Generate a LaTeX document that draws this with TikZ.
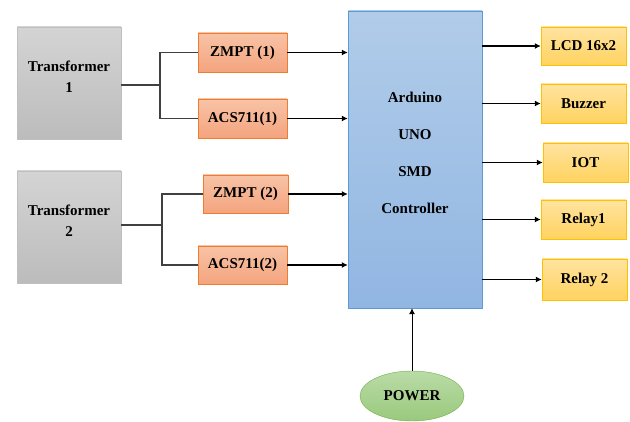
\documentclass[tikz,border=0pt]{standalone}
\usepackage{fontspec}
\setmainfont{Liberation Serif}
\usetikzlibrary{arrows.meta,positioning,shapes.geometric}

\definecolor{trborder}{HTML}{BFBFBF}
\definecolor{trtop}{HTML}{D4D4D4}
\definecolor{trbot}{HTML}{BCBCBC}
\definecolor{snsborder}{HTML}{ED7D31}
\definecolor{snstop}{HTML}{F8C3A6}
\definecolor{snsbot}{HTML}{F4A47E}
\definecolor{ardborder}{HTML}{5B9BD5}
\definecolor{ardtop}{HTML}{B1CCE9}
\definecolor{ardbot}{HTML}{91B6E2}
\definecolor{outborder}{HTML}{FFC000}
\definecolor{outtop}{HTML}{FFE3A0}
\definecolor{outbot}{HTML}{FFD35F}
\definecolor{pwrborder}{HTML}{70AD47}
\definecolor{pwrtop}{HTML}{BADBA6}
\definecolor{pwrbot}{HTML}{99C97D}

\tikzset{
trbox/.style={draw=trborder,top color=trtop,bottom color=trbot,minimum width=104pt,minimum height=112pt,align=center},
snsbox/.style={draw=snsborder,top color=snstop,bottom color=snsbot,minimum width=89pt,minimum height=39pt},
outbox/.style={draw=outborder,top color=outtop,bottom color=outbot,minimum width=85pt,minimum height=39pt},
wire/.style={draw=black!75,line width=1.1pt},
arr/.style={wire,-{Latex[length=6pt,width=6pt]},draw=black}
}

\begin{document}
\begin{tikzpicture}[x=1pt,y=-1pt,
every node/.style={inner sep=0pt,font=\bfseries\fontsize{15}{18}\selectfont}]
\useasboundingbox (0,0) rectangle (630,422);
\node[trbox] (T1) at (69,83) {Transformer\\[3pt]1\\[-6pt]};
\node[trbox] (T2) at (69,227) {Transformer\\[3pt]2\\[-6pt]};
\node[snsbox] (Z1) at (242.5,52.5) {ZMPT (1)};
\node[snsbox] (A1) at (242.5,118.5) {ACS711(1)};
\node[snsbox,minimum width=85pt,minimum height=38pt] (Z2) at (245.5,194) {ZMPT (2)};
\node[snsbox,minimum height=38pt] (A2) at (242.5,265) {ACS711(2)};
\node[draw=ardborder,top color=ardtop,bottom color=ardbot,
minimum width=134pt,minimum height=297pt,align=center] (ARD) at (415,159.5)
{Arduino\\[19pt]UNO\\[19pt]SMD\\[19pt]Controller\\[-4pt]};
\node[outbox,minimum height=38pt] (LCD) at (583.5,46) {LCD 16x2};
\node[outbox] (BUZ) at (583.5,103.5) {Buzzer};
\node[outbox] (IOT) at (585.5,162.5) {IOT};
\node[outbox] (R1) at (583.5,219.5) {Relay1};
\node[outbox,minimum height=41pt] (R2) at (584.5,279.5) {Relay 2};
\node[ellipse,draw=pwrborder,top color=pwrtop,bottom color=pwrbot,
minimum width=104pt,minimum height=50pt] (PWR) at (412,396) {POWER};
% transformer branches
\coordinate (J1) at (160,85);
\coordinate (J2) at (162,225);
\draw[wire] (T1.east |- J1)--(J1);
\draw[wire] (J1)|-(Z1.west);
\draw[wire] (J1)|-(A1.west);
\draw[wire] (T2.east |- J2)--(J2);
\draw[wire] (J2)|-(Z2.west);
\draw[wire] (J2)|-(A2.west);
% into controller
\draw[arr] (Z1.east)--(Z1.east -| ARD.west);
\draw[arr] (A1.east)--(A1.east -| ARD.west);
\draw[arr] (Z2.east)--(Z2.east -| ARD.west);
\draw[arr] (A2.east)--(A2.east -| ARD.west);
% outputs
\draw[arr] (ARD.east |- LCD.west)--(LCD.west);
\draw[arr] (ARD.east |- BUZ.west)--(BUZ.west);
\draw[arr] (ARD.east |- IOT.west)--(IOT.west);
\draw[arr] (ARD.east |- R1.west)--(R1.west);
\draw[arr] (ARD.east |- R2.west)--(R2.west);
\draw[arr,line width=0.8pt] (PWR.north)--(PWR.north |- ARD.south);
\end{tikzpicture}
\end{document}
